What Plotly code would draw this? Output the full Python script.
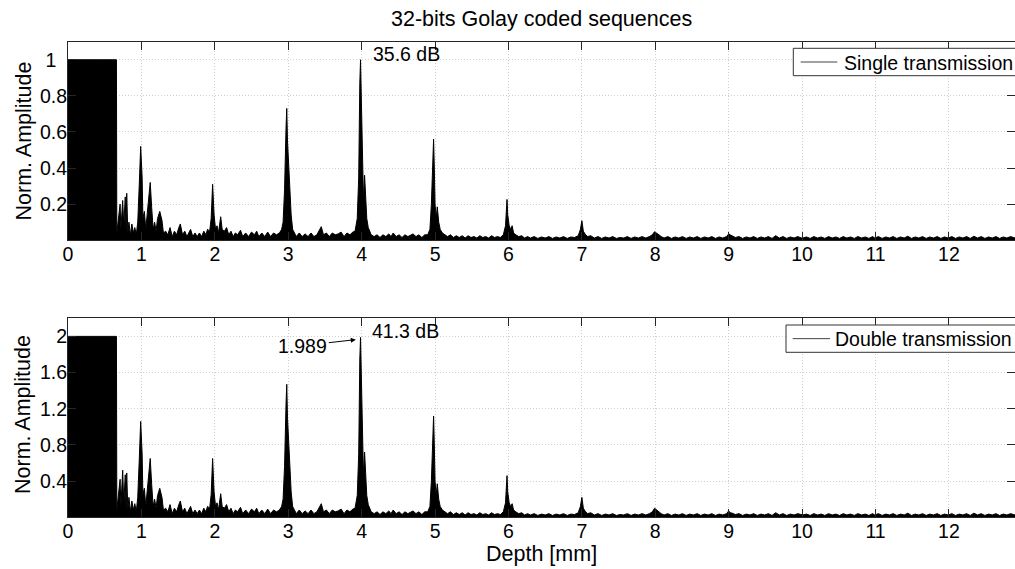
import plotly.graph_objects as go

# depth axis shared by both A-scans (mm)
depth_mm = [
    0.0, 0.66, 0.665, 0.69, 0.71, 0.72, 0.745, 0.76, 0.78, 0.79, 0.80, 0.815, 0.83, 0.85, 0.87, 0.89, 0.91, 0.93, 0.95, 0.97, 0.99,
    1.01, 1.02, 1.04, 1.06, 1.08, 1.10, 1.12, 1.14, 1.16, 1.18, 1.20, 1.22, 1.25, 1.28, 1.30, 1.33, 1.36, 1.39, 1.42, 1.45,
    1.48, 1.51, 1.53, 1.56, 1.59, 1.62, 1.65, 1.67, 1.70, 1.73, 1.76, 1.79, 1.82, 1.85, 1.88, 1.90, 1.93, 1.95, 1.97, 1.99,
    2.01, 2.03, 2.05, 2.08, 2.10, 2.13, 2.16, 2.19, 2.22, 2.25, 2.28, 2.31, 2.35, 2.38, 2.42, 2.46, 2.50,
    2.54, 2.57, 2.60, 2.64, 2.68, 2.72, 2.76, 2.80, 2.84, 2.88, 2.91, 2.93, 2.95, 2.97, 2.98, 2.99,
    3.00, 3.02, 3.04, 3.06, 3.08, 3.11, 3.15, 3.19, 3.23, 3.27, 3.31, 3.35, 3.39, 3.42, 3.45, 3.48,
    3.52, 3.56, 3.60, 3.64, 3.68, 3.72, 3.76, 3.80, 3.84, 3.88, 3.91, 3.94, 3.96, 3.975, 3.985, 3.995,
    4.01, 4.025, 4.04, 4.055, 4.07, 4.09, 4.11, 4.13, 4.17, 4.21, 4.25, 4.29, 4.33, 4.37, 4.40, 4.43, 4.47,
    4.51, 4.55, 4.59, 4.63, 4.67, 4.70, 4.74, 4.78, 4.82, 4.86, 4.90, 4.93, 4.95, 4.965, 4.98, 4.99,
    5.00, 5.015, 5.03, 5.05, 5.07, 5.10, 5.13, 5.17, 5.21, 5.25, 5.29, 5.33, 5.37, 5.41, 5.45,
    5.49, 5.53, 5.57, 5.61, 5.65, 5.69, 5.73, 5.77, 5.81, 5.85, 5.89, 5.93, 5.96, 5.98, 5.99,
    6.01, 6.03, 6.05, 6.07, 6.10, 6.14, 6.18, 6.22, 6.26, 6.30, 6.35, 6.40,
    6.45, 6.50, 6.55, 6.60, 6.65, 6.70, 6.75, 6.80, 6.85, 6.90, 6.95, 6.98,
    7.00, 7.02, 7.05, 7.08, 7.12, 7.17, 7.22, 7.27, 7.32, 7.37, 7.42, 7.47,
    7.52, 7.57, 7.62, 7.67, 7.72, 7.77, 7.82, 7.87, 7.92, 7.96, 7.99,
    8.02, 8.05, 8.08, 8.12, 8.17, 8.22, 8.27, 8.32, 8.37, 8.42, 8.47,
    8.52, 8.57, 8.62, 8.67, 8.72, 8.77, 8.82, 8.87, 8.92, 8.97,
    9.00, 9.02, 9.05, 9.09, 9.14, 9.19, 9.24, 9.29, 9.34, 9.39, 9.44,
    9.49, 9.54, 9.59, 9.64, 9.69, 9.74, 9.79, 9.84, 9.89, 9.94, 9.99,
    10.00, 10.01, 10.06, 10.11, 10.16, 10.21, 10.26, 10.31, 10.36, 10.41, 10.46,
    10.51, 10.56, 10.61, 10.66, 10.71, 10.76, 10.81, 10.86, 10.91, 10.96, 10.99,
    11.04, 11.09, 11.14, 11.19, 11.24, 11.29, 11.34, 11.39, 11.44, 11.49,
    11.54, 11.59, 11.64, 11.69, 11.74, 11.79, 11.84, 11.89, 11.94, 11.99,
    12.04, 12.09, 12.14, 12.19, 12.24, 12.29, 12.34, 12.39, 12.44,
    12.49, 12.54, 12.59, 12.64, 12.69, 12.74, 12.79, 12.84, 12.90,
]

# single transmission, normalised amplitude
single_amp = [
    1.0, 1.0, 0.04, 0.12, 0.20, 0.06, 0.22, 0.08, 0.24, 0.05, 0.26, 0.04, 0.10, 0.03, 0.09, 0.04, 0.07, 0.03, 0.10, 0.30, 0.52,
    0.35, 0.12, 0.16, 0.06, 0.15, 0.22, 0.32, 0.18, 0.06, 0.10, 0.05, 0.12, 0.16, 0.11, 0.04, 0.05, 0.03, 0.07, 0.02, 0.05,
    0.03, 0.07, 0.09, 0.03, 0.05, 0.02, 0.04, 0.06, 0.02, 0.04, 0.02, 0.04, 0.02, 0.05, 0.03, 0.06, 0.05, 0.12, 0.31, 0.14,
    0.06, 0.08, 0.04, 0.13, 0.06, 0.05, 0.07, 0.03, 0.05, 0.02, 0.04, 0.03, 0.055, 0.02, 0.04, 0.02, 0.045,
    0.03, 0.05, 0.02, 0.04, 0.02, 0.045, 0.02, 0.04, 0.03, 0.04, 0.06, 0.10, 0.28, 0.62, 0.73, 0.55,
    0.45, 0.28, 0.14, 0.06, 0.04, 0.02, 0.04, 0.02, 0.035, 0.02, 0.04, 0.02, 0.03, 0.05, 0.075, 0.03,
    0.04, 0.02, 0.04, 0.03, 0.035, 0.045, 0.02, 0.04, 0.03, 0.045, 0.05, 0.12, 0.35, 0.87, 1.0, 0.80,
    0.45, 0.22, 0.36, 0.18, 0.12, 0.07, 0.05, 0.03, 0.02, 0.03, 0.015, 0.03, 0.02, 0.035, 0.02, 0.04, 0.02,
    0.03, 0.015, 0.03, 0.02, 0.03, 0.035, 0.02, 0.03, 0.015, 0.03, 0.03, 0.06, 0.20, 0.45, 0.56, 0.40,
    0.20, 0.12, 0.185, 0.10, 0.06, 0.04, 0.03, 0.02, 0.03, 0.015, 0.025, 0.015, 0.025, 0.012, 0.025,
    0.015, 0.02, 0.012, 0.025, 0.015, 0.02, 0.012, 0.025, 0.015, 0.02, 0.015, 0.03, 0.08, 0.226, 0.14,
    0.08, 0.06, 0.08, 0.04, 0.03, 0.02, 0.025, 0.012, 0.02, 0.012, 0.02, 0.01,
    0.018, 0.012, 0.02, 0.01, 0.018, 0.012, 0.02, 0.01, 0.018, 0.015, 0.025, 0.06,
    0.108, 0.05, 0.03, 0.02, 0.025, 0.012, 0.02, 0.01, 0.018, 0.012, 0.02, 0.01,
    0.015, 0.012, 0.02, 0.01, 0.018, 0.012, 0.02, 0.012, 0.02, 0.03, 0.047,
    0.04, 0.03, 0.02, 0.012, 0.02, 0.01, 0.018, 0.012, 0.02, 0.01, 0.018,
    0.012, 0.02, 0.01, 0.018, 0.012, 0.02, 0.01, 0.018, 0.012, 0.02,
    0.035, 0.03, 0.025, 0.015, 0.02, 0.01, 0.018, 0.012, 0.02, 0.01, 0.018,
    0.012, 0.02, 0.01, 0.025, 0.012, 0.02, 0.01, 0.018, 0.012, 0.02, 0.012,
    0.015, 0.012, 0.018, 0.01, 0.02, 0.012, 0.018, 0.01, 0.02, 0.012, 0.018,
    0.01, 0.02, 0.012, 0.018, 0.01, 0.02, 0.012, 0.018, 0.01, 0.02, 0.012,
    0.02, 0.01, 0.018, 0.012, 0.02, 0.01, 0.018, 0.012, 0.022, 0.01,
    0.018, 0.012, 0.02, 0.01, 0.018, 0.012, 0.02, 0.01, 0.018, 0.012,
    0.02, 0.01, 0.018, 0.012, 0.02, 0.01, 0.022, 0.012, 0.02,
    0.01, 0.018, 0.012, 0.02, 0.01, 0.018, 0.012, 0.02, 0.012,
]

# double transmission, normalised amplitude
double_amp = [
    2.0, 2.0, 0.08, 0.26, 0.42, 0.12, 0.52, 0.15, 0.47, 0.10, 0.49, 0.08, 0.22, 0.06, 0.18, 0.08, 0.15, 0.06, 0.22, 0.62, 1.06,
    0.70, 0.25, 0.32, 0.12, 0.30, 0.44, 0.65, 0.36, 0.12, 0.20, 0.10, 0.24, 0.32, 0.22, 0.08, 0.10, 0.06, 0.14, 0.04, 0.10,
    0.06, 0.14, 0.18, 0.06, 0.10, 0.04, 0.08, 0.12, 0.04, 0.08, 0.04, 0.08, 0.04, 0.10, 0.06, 0.12, 0.10, 0.25, 0.65, 0.28,
    0.12, 0.16, 0.08, 0.26, 0.12, 0.10, 0.14, 0.06, 0.10, 0.04, 0.08, 0.06, 0.11, 0.04, 0.08, 0.04, 0.09,
    0.06, 0.10, 0.04, 0.08, 0.04, 0.09, 0.04, 0.08, 0.06, 0.08, 0.12, 0.20, 0.56, 1.25, 1.47, 1.10,
    0.90, 0.56, 0.28, 0.12, 0.08, 0.04, 0.08, 0.04, 0.07, 0.04, 0.08, 0.04, 0.06, 0.10, 0.15, 0.06,
    0.08, 0.04, 0.08, 0.06, 0.07, 0.09, 0.04, 0.08, 0.06, 0.09, 0.10, 0.24, 0.70, 1.75, 1.989, 1.60,
    0.90, 0.45, 0.72, 0.36, 0.24, 0.14, 0.10, 0.06, 0.04, 0.06, 0.03, 0.06, 0.04, 0.07, 0.04, 0.08, 0.04,
    0.06, 0.03, 0.06, 0.04, 0.06, 0.07, 0.04, 0.06, 0.03, 0.06, 0.06, 0.12, 0.40, 0.90, 1.12, 0.80,
    0.40, 0.24, 0.37, 0.20, 0.12, 0.08, 0.06, 0.04, 0.06, 0.03, 0.05, 0.03, 0.05, 0.025, 0.05,
    0.03, 0.04, 0.025, 0.05, 0.03, 0.04, 0.025, 0.05, 0.03, 0.04, 0.03, 0.06, 0.16, 0.46, 0.28,
    0.16, 0.12, 0.15, 0.08, 0.06, 0.04, 0.05, 0.025, 0.04, 0.025, 0.04, 0.02,
    0.035, 0.025, 0.04, 0.02, 0.035, 0.025, 0.04, 0.02, 0.035, 0.03, 0.05, 0.12,
    0.22, 0.10, 0.06, 0.04, 0.05, 0.025, 0.04, 0.02, 0.035, 0.025, 0.04, 0.02,
    0.03, 0.025, 0.04, 0.02, 0.035, 0.025, 0.04, 0.025, 0.04, 0.06, 0.10,
    0.08, 0.06, 0.04, 0.025, 0.04, 0.02, 0.035, 0.025, 0.04, 0.02, 0.035,
    0.025, 0.04, 0.02, 0.035, 0.025, 0.04, 0.02, 0.035, 0.025, 0.04,
    0.07, 0.05, 0.045, 0.03, 0.04, 0.02, 0.035, 0.025, 0.04, 0.02, 0.035,
    0.025, 0.04, 0.02, 0.05, 0.025, 0.04, 0.02, 0.035, 0.025, 0.04, 0.025,
    0.03, 0.025, 0.035, 0.02, 0.04, 0.025, 0.035, 0.02, 0.04, 0.025, 0.035,
    0.02, 0.04, 0.025, 0.035, 0.02, 0.04, 0.025, 0.035, 0.02, 0.04, 0.025,
    0.04, 0.02, 0.035, 0.025, 0.04, 0.02, 0.035, 0.025, 0.045, 0.02,
    0.035, 0.025, 0.04, 0.02, 0.035, 0.025, 0.04, 0.02, 0.035, 0.025,
    0.04, 0.02, 0.035, 0.025, 0.04, 0.02, 0.045, 0.025, 0.04,
    0.02, 0.035, 0.025, 0.04, 0.02, 0.035, 0.025, 0.04, 0.025,
]

x_ticks = list(range(0, 13))
single_yticks = [0.2, 0.4, 0.6, 0.8, 1]
single_yticktext = ["0.2", "0.4", "0.6", "0.8", "1\u00a0\u00a0"]
double_yticks = [0.4, 0.8, 1.2, 1.6, 2]
double_yticktext = ["0.4", "0.8", "1.2", "1.6", "2"]
legend_names = ["Single transmission", "Double transmission"]

FONT = "Liberation Sans, Arial, sans-serif"
W, H = 1015, 569
ML = 68


def px(x):
    # pixel column -> paper x
    return (x - ML) / (W - ML)


def py(y):
    # pixel row -> paper y
    return 1 - y / H


fig = go.Figure()

# signal traces (filled to zero, like the dense MATLAB plot)
fig.add_trace(go.Scatter(x=depth_mm, y=single_amp, mode="lines",
                         line=dict(color="black", width=1), fill="tozeroy",
                         fillcolor="black", showlegend=False, hoverinfo="skip",
                         xaxis="x", yaxis="y"))
fig.add_trace(go.Scatter(x=depth_mm, y=double_amp, mode="lines",
                         line=dict(color="black", width=1), fill="tozeroy",
                         fillcolor="black", showlegend=False, hoverinfo="skip",
                         xaxis="x2", yaxis="y2"))

axis_style = dict(
    showline=True, linecolor="#262626", linewidth=1, mirror="ticks",
    ticks="inside", ticklen=8, tickcolor="#262626", tickwidth=1,
    showgrid=True, gridcolor="#cfcfcf", griddash="1px,2px", gridwidth=1,
    zeroline=False, automargin=False, ticklabelstandoff=-4,
    tickfont=dict(family=FONT, size=19.5, color="black"),
)

fig.update_layout(
    width=W, height=H,
    margin=dict(l=ML, r=0, t=0, b=0),
    paper_bgcolor="white", plot_bgcolor="white",
    font=dict(family=FONT, color="black"),
    showlegend=False,
    xaxis=dict(axis_style, domain=[0, 1], range=[0, 12.9], tickvals=x_ticks, anchor="y"),
    yaxis=dict(axis_style, domain=[py(240.2), py(41.7)], range=[0, 1.1],
               tickvals=single_yticks, ticktext=single_yticktext, anchor="x"),
    xaxis2=dict(axis_style, domain=[0, 1], range=[0, 12.9], tickvals=x_ticks, anchor="y2"),
    yaxis2=dict(axis_style, domain=[py(517.25), py(318.3)], range=[0, 2.2],
                tickvals=double_yticks, ticktext=double_yticktext, anchor="x2"),
)

# legend boxes in MATLAB style (box, line sample, label)
shapes = []
annotations = []
legend_boxes = [(793.3, 48.3, 75.7, 800.7, 837.3, 841.7),
                (786.0, 325.0, 352.3, 792.7, 830.0, 833.0)]
for name, (bx, top, bottom, lx0, lx1, tx) in zip(legend_names, legend_boxes):
    shapes.append(dict(type="rect", xref="paper", yref="paper",
                       x0=px(bx), x1=px(W + 2), y0=py(bottom), y1=py(top),
                       line=dict(color="#333333", width=1), fillcolor="white", layer="above"))
    yc = (top + bottom) / 2
    shapes.append(dict(type="line", xref="paper", yref="paper",
                       x0=px(lx0), x1=px(lx1), y0=py(yc), y1=py(yc),
                       line=dict(color="#444444", width=1), layer="above"))
    annotations.append(dict(text=name, xref="paper", yref="paper",
                            x=px(tx), y=py(yc + 0.5), xanchor="left", yanchor="middle",
                            showarrow=False, font=dict(family=FONT, size=19.5)))

annotations += [
    dict(text="32-bits Golay coded sequences", xref="paper", yref="paper",
         x=0.5, y=py(19), xanchor="center", yanchor="middle",
         showarrow=False, font=dict(family=FONT, size=21.5)),
    dict(text="Norm. Amplitude", xref="paper", yref="paper",
         x=0, xshift=-45, y=py(141.5), xanchor="center", yanchor="middle",
         textangle=-90, showarrow=False, font=dict(family=FONT, size=21.5)),
    dict(text="Norm. Amplitude", xref="paper", yref="paper",
         x=0, xshift=-45, y=py(415), xanchor="center", yanchor="middle",
         textangle=-90, showarrow=False, font=dict(family=FONT, size=21.5)),
    dict(text="Depth [mm]", xref="paper", yref="paper",
         x=0.5, y=py(554), xanchor="center", yanchor="middle",
         showarrow=False, font=dict(family=FONT, size=21.5)),
    dict(text="35.6 dB", xref="x", yref="y", x=4.13, y=1.03,
         xanchor="left", yanchor="middle", showarrow=False,
         font=dict(family=FONT, size=19.5)),
    dict(text="41.3 dB", xref="x2", yref="y2", x=4.12, y=2.06,
         xanchor="left", yanchor="middle", showarrow=False,
         font=dict(family=FONT, size=19.5)),
    dict(text="1.989", xref="x2", yref="y2", x=3.92, y=1.964,
         ax=-53, ay=6, showarrow=True, arrowhead=2, arrowsize=1,
         arrowwidth=1, arrowcolor="black", standoff=0,
         font=dict(family=FONT, size=19.5)),
]
fig.update_layout(shapes=shapes, annotations=annotations)

# page body has a default 8px margin; drop it so the figure sits at the window origin
fig.write_html("out.html", config={"displayModeBar": False},
               post_script="document.body.style.margin='0';")
